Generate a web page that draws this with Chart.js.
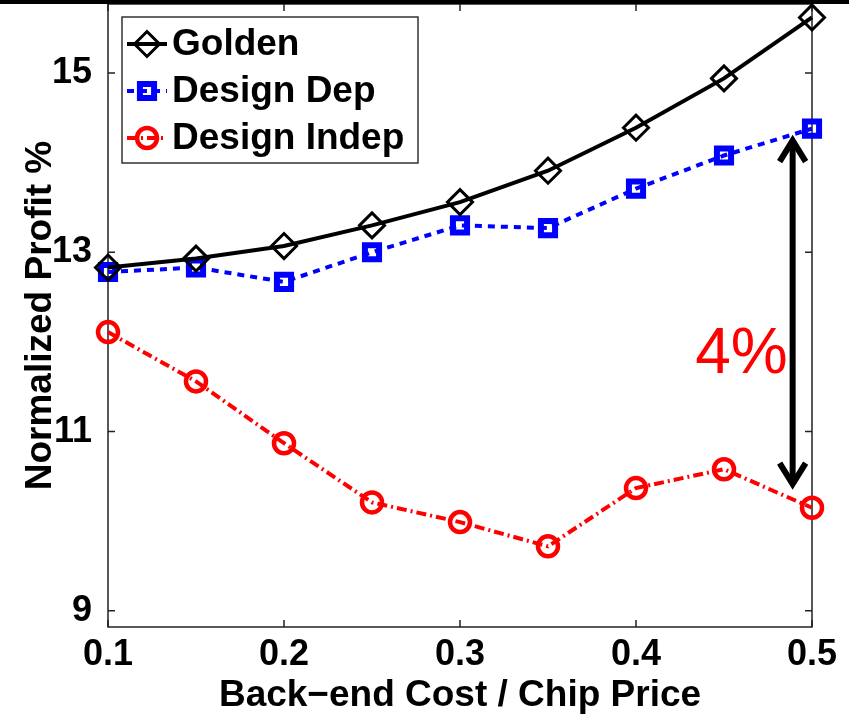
<!DOCTYPE html>
<html>
<head>
<meta charset="utf-8">
<script src="https://cdn.jsdelivr.net/npm/chart.js@4.4.1/dist/chart.umd.min.js"></script>
<style>
  html, body { margin: 0; padding: 0; background: #fff; }
  #wrap { width: 849px; height: 720px; position: relative; }
</style>
</head>
<body>
<div id="wrap"><canvas id="c" width="849" height="720"></canvas></div>
<script>
// Profit vs. back-end cost ratio, three pricing models
const costRatio   = [0.1, 0.15, 0.2, 0.25, 0.3, 0.35, 0.4, 0.45, 0.5];
const golden      = [12.83, 12.93, 13.07, 13.30, 13.56, 13.91, 14.39, 14.94, 15.62];
const designDep   = [12.78, 12.83, 12.67, 13.00, 13.30, 13.27, 13.71, 14.08, 14.38];
const designIndep = [12.11, 11.56, 10.87, 10.21, 9.99, 9.72, 10.37, 10.58, 10.15];

const xTicks      = [0.1, 0.2, 0.3, 0.4, 0.5];
const xTickLabels = ['0.1', '0.2', '0.3', '0.4', '0.5'];
const yTicks      = [9, 11, 13, 15];
const yTickLabels = ['9', '11', '13', '15'];

const seriesNames = ['Golden', 'Design Dep', 'Design Indep'];
const xTitle = 'Back\u2212end Cost / Chip Price';
const yTitle = 'Normalized Profit %';

// gap marker between Design Dep and Design Indep at the right end
const gapLabel = '4%';
const gapArrow = { x: 0.489, top: 14.28, bottom: 10.38 };
const gapLabelY = 11.85;

const FONT = "'Liberation Sans', Arial, Helvetica, sans-serif";

function pts(ys) { return ys.map((y, i) => ({ x: costRatio[i], y })); }

const styles = [
  { color: '#000000', width: 4, dash: [], point: 'rectRot', radius: 12.5, pw: 3 },
  { color: '#0000ff', width: 4, dash: [7, 6], point: 'rect', radius: 10, pw: 6 },
  { color: '#ff0000', width: 4, dash: [10, 4, 2, 4], point: 'circle', radius: 10, pw: 4.5 }
];
const seriesData = [golden, designDep, designIndep];

const datasets = seriesData.map((ys, i) => ({
  label: seriesNames[i],
  data: pts(ys),
  borderColor: styles[i].color,
  borderWidth: styles[i].width,
  borderDash: styles[i].dash,
  pointStyle: styles[i].point,
  pointRadius: styles[i].radius,
  pointBorderWidth: styles[i].pw,
  pointBorderColor: styles[i].color,
  pointBackgroundColor: 'rgba(0,0,0,0)',
  fill: false,
  tension: 0,
  clip: false
}));

// box frame with inward ticks, legend, gap arrow, top band
const decorations = {
  id: 'decorations',
  beforeDatasetsDraw(chart) {
    const { ctx, chartArea: a, scales: { x, y } } = chart;
    ctx.save();
    ctx.strokeStyle = '#222';
    ctx.lineWidth = 1.5;
    ctx.strokeRect(a.left, a.top, a.right - a.left, a.bottom - a.top);
    const tl = 7;
    ctx.beginPath();
    xTicks.forEach(v => {
      const px = x.getPixelForValue(v);
      ctx.moveTo(px, a.bottom); ctx.lineTo(px, a.bottom - tl);
      ctx.moveTo(px, a.top); ctx.lineTo(px, a.top + tl);
    });
    yTicks.forEach(v => {
      const py = y.getPixelForValue(v);
      ctx.moveTo(a.left, py); ctx.lineTo(a.left + tl, py);
      ctx.moveTo(a.right, py); ctx.lineTo(a.right - tl, py);
    });
    ctx.stroke();
    ctx.restore();
  },
  afterDraw(chart) {
    const { ctx, scales: { x, y } } = chart;
    ctx.save();

    // gap arrow
    const ax = x.getPixelForValue(gapArrow.x);
    const at = y.getPixelForValue(gapArrow.top);
    const ab = y.getPixelForValue(gapArrow.bottom);
    ctx.strokeStyle = '#000';
    ctx.lineWidth = 6;
    ctx.lineCap = 'butt';
    ctx.beginPath();
    ctx.moveTo(ax, at + 3); ctx.lineTo(ax, ab - 3);
    ctx.stroke();
    ctx.lineJoin = 'miter';
    ctx.beginPath();
    ctx.moveTo(ax - 13, at + 24); ctx.lineTo(ax, at + 3); ctx.lineTo(ax + 13, at + 24);
    ctx.moveTo(ax - 13, ab - 24); ctx.lineTo(ax, ab - 3); ctx.lineTo(ax + 13, ab - 24);
    ctx.stroke();

    ctx.fillStyle = '#ff0000';
    ctx.font = "64px " + FONT;
    ctx.textAlign = 'right';
    ctx.textBaseline = 'middle';
    ctx.fillText(gapLabel, ax - 5, y.getPixelForValue(gapLabelY));

    // legend
    const box = { left: 122, top: 17, right: 418, bottom: 163 };
    ctx.fillStyle = '#fff';
    ctx.fillRect(box.left, box.top, box.right - box.left, box.bottom - box.top);
    ctx.strokeStyle = '#333';
    ctx.lineWidth = 1.5;
    ctx.strokeRect(box.left, box.top, box.right - box.left, box.bottom - box.top);
    const rows = [44, 91, 138];
    seriesNames.forEach((name, i) => {
      const s = styles[i];
      const cy = rows[i];
      ctx.strokeStyle = s.color;
      ctx.lineWidth = s.width;
      ctx.setLineDash(s.dash);
      ctx.beginPath();
      ctx.moveTo(127, cy); ctx.lineTo(167, cy);
      ctx.stroke();
      ctx.setLineDash([]);
      ctx.lineWidth = s.pw;
      ctx.fillStyle = 'rgba(0,0,0,0)';
      Chart.helpers.drawPoint(ctx, { pointStyle: s.point, radius: s.radius, borderWidth: s.pw }, 147, cy);
      ctx.fillStyle = '#000';
      ctx.font = "bold 37px " + FONT;
      ctx.textAlign = 'left';
      ctx.textBaseline = 'middle';
      ctx.fillText(name, 172, cy + 1);
    });

    // band along the top edge
    ctx.fillStyle = '#000';
    ctx.fillRect(0, 0, chart.width, 4);
    ctx.restore();
  }
};

new Chart(document.getElementById('c'), {
  type: 'line',
  data: { datasets },
  options: {
    responsive: false,
    animation: false,
    devicePixelRatio: 1,
    layout: { autoPadding: false, padding: { top: 4, right: 37, left: 0, bottom: 0 } },
    plugins: { legend: { display: false }, tooltip: { enabled: false } },
    scales: {
      x: {
        type: 'linear',
        min: 0.1, max: 0.5,
        afterFit(s) { s.height = 93; s.paddingLeft = 0; s.paddingRight = 0; },
        afterBuildTicks(s) { s.ticks = xTicks.map(v => ({ value: v })); },
        ticks: {
          callback: (v, i) => xTickLabels[i],
          font: { family: FONT, size: 36, weight: 'bold' },
          color: '#000', padding: -2, maxRotation: 0, autoSkip: false
        },
        grid: { display: false },
        border: { display: false },
        title: {
          display: true, text: xTitle, color: '#000',
          font: { family: FONT, size: 37, weight: 'bold' },
          padding: { top: 0, bottom: 2 }
        }
      },
      y: {
        type: 'linear',
        min: 8.82, max: 15.77,
        afterFit(s) { s.width = 108; s.paddingTop = 0; s.paddingBottom = 0; },
        afterBuildTicks(s) { s.ticks = yTicks.map(v => ({ value: v })); },
        ticks: {
          callback: (v, i) => yTickLabels[i],
          font: { family: FONT, size: 36, weight: 'bold' },
          color: '#000', padding: 8, autoSkip: false
        },
        grid: { display: false },
        border: { display: false },
        title: {
          display: true, text: yTitle, color: '#000',
          font: { family: FONT, size: 37, weight: 'bold' },
          padding: { top: 19, bottom: 0 }
        }
      }
    }
  },
  plugins: [decorations]
});
</script>
</body>
</html>
